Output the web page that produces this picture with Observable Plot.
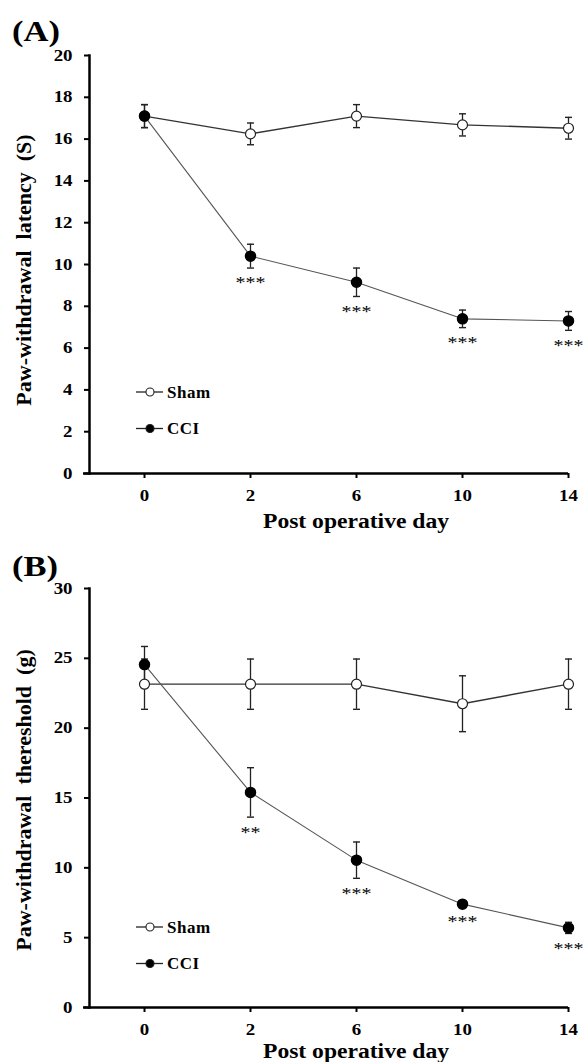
<!DOCTYPE html>
<html><head><meta charset="utf-8">
<script src="https://cdn.jsdelivr.net/npm/d3@7"></script>
<script src="https://cdn.jsdelivr.net/npm/@observablehq/plot@0.6"></script>
<style>
body{margin:0;background:#fff;font-family:"Liberation Serif","Times New Roman",serif;color:#000;}
.panel{position:relative;width:586px;overflow:visible;}
.over{position:absolute;left:0;top:0;overflow:visible;}
</style></head>
<body><div id="root"></div>
<script>
const days = ["0", "2", "6", "10", "14"];

// Panel A: paw-withdrawal latency (S)
const shamA = [17.1, 16.25, 17.1, 16.68, 16.52];
const shamAErr = [0.55, 0.52, 0.55, 0.53, 0.52];
const cciA = [17.1, 10.4, 9.15, 7.4, 7.3];
const cciAErr = [0.55, 0.57, 0.68, 0.42, 0.45];
const sigA = ["", "***", "***", "***", "***"];
const yTicksA = [0, 2, 4, 6, 8, 10, 12, 14, 16, 18, 20];

// Panel B: paw-withdrawal threshold (g)
const shamB = [23.15, 23.15, 23.15, 21.75, 23.15];
const shamBErr = [1.8, 1.8, 1.8, 2.0, 1.8];
const cciB = [24.55, 15.4, 10.55, 7.4, 5.7];
const cciBErr = [1.3, 1.77, 1.3, 0.2, 0.4];
const sigB = ["", "**", "***", "***", "***"];
const yTicksB = [0, 5, 10, 15, 20, 25, 30];

const legendLabels = ["Sham", "CCI"];
const xTitle = "Post operative day";

const FONT = '"Liberation Serif","Times New Roman",serif';
const SX = 1.18; // horizontal stretch of the reference lettering

// horizontal cap symbol for error bars
const capSymbol = {draw(context, size) { const w = Math.sqrt(size / Math.PI); context.moveTo(-w, 0); context.lineTo(w, 0); }};

function rows(vals, errs, sig) {
  return days.map((d, i) => ({day: d, v: vals[i], lo: vals[i] - errs[i], hi: vals[i] + errs[i], sig: sig ? sig[i] : ""}));
}

function stretchText(svgNode) {
  d3.select(svgNode).selectAll("text").each(function () {
    const t = this.getAttribute("transform") || "";
    const x = +this.getAttribute("x") || 0;
    this.setAttribute("transform", `${t} translate(${x},0) scale(${SX},1) translate(${-x},0)`);
  });
}

function panel(cfg) {
  const div = document.createElement("div");
  div.className = "panel";
  div.style.height = cfg.height + "px";
  const sham = rows(cfg.sham, cfg.shamErr);
  const cci = rows(cfg.cci, cfg.cciErr, cfg.sig);
  const errMarks = (data, color) => [
    Plot.ruleX(data, {x: "day", y1: "lo", y2: "hi", stroke: color, strokeWidth: 1.3}),
    Plot.dot(data, {x: "day", y: "hi", symbol: capSymbol, r: 3.5, fill: "none", stroke: color, strokeWidth: 1.4}),
    Plot.dot(data, {x: "day", y: "lo", symbol: capSymbol, r: 3.5, fill: "none", stroke: color, strokeWidth: 1.4})
  ];
  const chart = Plot.plot({
    width: 586, height: cfg.height,
    marginTop: cfg.marginTop, marginBottom: cfg.marginBottom,
    marginLeft: 89, marginRight: 18,
    style: {fontFamily: FONT, fontSize: "16px", fontWeight: "bold", color: "#000", background: "#fff", overflow: "visible"},
    x: {type: "point", domain: days, padding: 0.25, align: 1, label: null},
    y: {domain: [0, cfg.yTicks[cfg.yTicks.length - 1]], label: null},
    marks: [
      Plot.axisY({ticks: cfg.yTicks, tickSize: 5, tickPadding: 12, strokeWidth: 2, label: null}),
      Plot.axisX({tickSize: 5, tickPadding: 11, strokeWidth: 2, label: null}),
      Plot.ruleY([0], {strokeWidth: 2.5, insetLeft: -6}),
      Plot.frame({anchor: "left", strokeWidth: 2.5}),
      Plot.line(sham, {x: "day", y: "v", stroke: "#333", strokeWidth: 1.4}),
      Plot.line(cci, {x: "day", y: "v", stroke: "#555", strokeWidth: 1.1}),
      ...errMarks(sham, "#222"),
      ...errMarks(cci, "#222"),
      Plot.dot(sham, {x: "day", y: "v", r: 5, fill: "white", stroke: "#222", strokeWidth: 1.2}),
      Plot.dot(cci, {x: "day", y: "v", r: 5, fill: "black", stroke: "black"}),
      Plot.text(cci, {x: "day", y: "lo", text: "sig", dy: 15, fontSize: 17, fontWeight: "normal", fill: "#000", letterSpacing: "1px"})
    ]
  });
  stretchText(chart);
  div.appendChild(chart);

  // overlay: panel tag, axis titles, legend
  const svg = d3.create("svg").attr("class", "over").attr("width", 586).attr("height", cfg.height)
    .attr("font-family", FONT).attr("font-weight", "bold").attr("fill", "#000");
  svg.append("text").attr("transform", `translate(12,${cfg.tagBase}) scale(1.15,1)`).attr("font-size", 30).text(cfg.tag);
  svg.append("text").attr("transform", `translate(356,${cfg.xTitleBase}) scale(${SX},1)`).attr("text-anchor", "middle").attr("font-size", 20).text(xTitle);
  svg.append("text").attr("transform", `translate(31,${cfg.yTitleMid}) rotate(-90)`).attr("text-anchor", "middle")
    .attr("font-size", 22).attr("xml:space", "preserve").style("white-space", "pre").text(cfg.yTitle);
  legendLabels.forEach((lab, i) => {
    const g = svg.append("g").attr("transform", `translate(136,${392 + i * 36.5})`);
    g.append("line").attr("x1", 0).attr("x2", 27).attr("stroke", "#222").attr("stroke-width", 1.3);
    g.append("circle").attr("cx", 14).attr("r", 4).attr("fill", i === 0 ? "white" : "black").attr("stroke", "#222").attr("stroke-width", 1.1);
    g.append("text").attr("x", 31).attr("dy", "0.35em").attr("font-size", 17).attr("letter-spacing", "0.5px").text(lab);
  });
  div.appendChild(svg.node());
  return div;
}

const root = document.getElementById("root");
root.appendChild(panel({
  tag: "(A)", tagBase: 41, height: 535, marginTop: 55, marginBottom: 62,
  sham: shamA, shamErr: shamAErr, cci: cciA, cciErr: cciAErr, sig: sigA, yTicks: yTicksA,
  yTitle: "Paw-withdrawal\u00a0\u00a0latency\u00a0\u00a0(S)", yTitleMid: 270, xTitleBase: 528
}));
root.appendChild(panel({
  tag: "(B)", tagBase: 41, height: 527, marginTop: 53, marginBottom: 55,
  sham: shamB, shamErr: shamBErr, cci: cciB, cciErr: cciBErr, sig: sigB, yTicks: yTicksB,
  yTitle: "Paw-withdrawal\u00a0\u00a0thereshold\u00a0\u00a0(g)", yTitleMid: 265, xTitleBase: 523
}));
</script>
</body></html>
